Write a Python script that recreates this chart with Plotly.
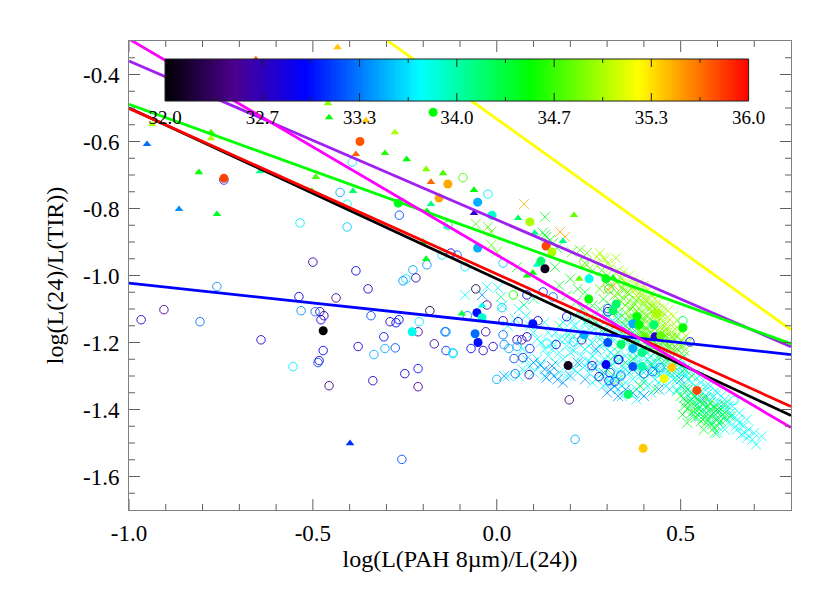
import numpy as np
import plotly.graph_objects as go

FONT = "Liberation Serif"
TICK_GREY = "#606060"

# colour scale of the bar, log luminosity 32-36
cmin, cmax = 32.0, 36.0
rainbow = [[0.0, "#000000"], [0.12, "#4b0090"], [0.24, "#0000ff"], [0.437, "#00ffff"],
           [0.626, "#00ff00"], [0.811, "#ffff00"], [1.0, "#ff0000"]]
bar_ticks = [32.0, 32.667, 33.333, 34.0, 34.667, 35.333, 36.0]
bar_labels = ["32.0", "32.7", "33.3", "34.0", "34.7", "35.3", "36.0"]
bar_minor = [32.333, 33.0, 33.667, 34.333, 35.0, 35.667]

# axis ticks
x_major = [-1.0, -0.5, 0.0, 0.5]
x_labels = ["-1.0", "-0.5", "0.0", "0.5"]
x_minor = [-0.9, -0.8, -0.7, -0.6, -0.4, -0.3, -0.2, -0.1, 0.1, 0.2, 0.3, 0.4, 0.6, 0.7]
y_major = [-1.6, -1.4, -1.2, -1.0, -0.8, -0.6, -0.4]
y_labels = ["-1.6", "-1.4", "-1.2", "-1.0", "-0.8", "-0.6", "-0.4"]
y_minor = [-1.65, -1.55, -1.5, -1.45, -1.35, -1.3, -1.25, -1.15, -1.1, -1.05, -0.95, -0.9, -0.85,
           -0.75, -0.7, -0.65, -0.55, -0.5, -0.45, -0.35]

# fit lines: y at x=-1.0 and y at x=0.8
line_names = ["black", "red", "blue", "purple", "green", "magenta", "yellow"]
line_colors = ["#000000", "#ff0000", "#0000ff", "#a020f0", "#00ff00", "#ff00ff", "#ffff00"]
line_x = [-1.0, 0.8]
line_left = [-0.50, -0.501, -1.023, -0.36, -0.489, -0.294, 0.254]
line_right = [-1.418, -1.391, -1.236, -1.2125, -1.204, -1.454, -1.162]

# (x, y, colour value)
triangles = [
    (-0.433, -0.319, 35.4), (-0.655, -0.355, 35.7), (-0.459, -0.486, 34.9), (-0.456, -0.528, 34.5),
    (-0.356, -0.537, 35.4), (-0.937, -0.549, 35.0), (-0.777, -0.573, 34.7), (-0.777, -0.591, 35.0),
    (-0.951, -0.608, 33.3), (-0.277, -0.573, 35.0), (-0.383, -0.638, 35.7), (-0.304, -0.635, 34.6),
    (-0.245, -0.653, 34.5), (-0.192, -0.683, 34.9), (-0.146, -0.695, 34.7), (-0.179, -0.721, 35.7),
    (-0.81, -0.692, 34.5), (-0.644, -0.689, 34.1), (-0.492, -0.706, 34.7), (-0.503, -0.748, 34.6),
    (-0.391, -0.748, 34.2), (-0.864, -0.802, 33.4), (-0.761, -0.817, 34.4), (-0.179, -0.787, 34.1),
    (-0.19, -0.808, 34.4), (-0.135, -0.855, 33.8), (-0.2, -0.9, 34.5), (-0.192, -0.951, 34.4),
    (-0.399, -1.501, 33.1), (-0.062, -0.745, 34.5), (-0.062, -0.814, 32.7), (0.058, -0.829, 34.2),
    (0.21, -0.82, 34.8), (0.103, -0.873, 34.1), (0.18, -0.897, 34.1), (0.109, -0.968, 33.9),
    (0.082, -1.0, 34.5), (0.098, -0.992, 34.5), (0.224, -1.01, 34.8), (0.316, -1.007, 34.5),
    (-0.095, -1.114, 34.3), (-0.04, -1.09, 33.8),
]

filled = [
    (-0.372, -0.6, 35.75), (-0.742, -0.71, 35.8), (-0.173, -0.513, 34.5), (-0.133, -0.727, 35.5),
    (-0.157, -0.769, 35.5), (-0.268, -0.784, 34.4), (-0.052, -0.781, 33.5), (-0.013, -0.82, 33.9),
    (0.09, -0.84, 35.0), (-0.052, -0.918, 33.5), (0.134, -0.912, 35.8), (0.15, -0.93, 35.0),
    (0.12, -0.957, 34.2), (0.131, -0.98, 32.1), (0.251, -1.01, 33.8), (0.297, -1.01, 34.4),
    (0.25, -1.07, 34.5), (0.325, -1.085, 34.2), (0.316, -1.105, 34.2), (0.381, -1.123, 34.5),
    (0.37, -1.144, 33.5), (0.387, -1.147, 34.5), (0.403, -1.183, 34.8), (-0.054, -1.111, 33.0),
    (-0.04, -1.126, 33.9), (0.098, -1.144, 33.0), (-0.059, -1.174, 33.3), (-0.051, -1.2, 33.0),
    (0.237, -1.177, 33.5), (0.302, -1.2, 33.2), (0.338, -1.206, 34.2), (0.37, -1.218, 33.5),
    (0.395, -1.23, 34.1), (0.194, -1.269, 32.1), (0.297, -1.266, 32.9), (0.37, -1.272, 33.2),
    (0.395, -1.272, 34.0), (0.435, -1.114, 35.0), (0.427, -1.147, 34.2), (0.506, -1.156, 34.5),
    (0.43, -1.183, 32.7), (0.446, -1.18, 34.8), (0.476, -1.275, 35.4), (0.455, -1.308, 35.2),
    (0.544, -1.343, 35.8), (0.357, -1.355, 34.2), (0.398, -1.516, 35.4), (-0.472, -1.165, 32.0),
    (-0.23, -1.168, 33.8),
]

open_circles = [
    (-0.742, -0.715, 33.1), (-0.393, -0.662, 33.7), (-0.426, -0.752, 33.5), (-0.407, -0.787, 33.8),
    (-0.265, -0.82, 33.2), (-0.535, -0.843, 33.7), (-0.407, -0.855, 33.6), (-0.133, -0.85, 34.4),
    (-0.092, -0.708, 34.7), (-0.024, -0.757, 33.7), (-0.5, -0.96, 32.6), (-0.383, -0.986, 32.9),
    (-0.228, -0.983, 33.5), (-0.19, -0.968, 33.4), (-0.149, -0.939, 33.7), (-0.125, -0.933, 32.8),
    (-0.108, -0.939, 33.3), (-0.22, -1.007, 32.6), (-0.247, -1.01, 33.7), (-0.255, -1.016, 33.4),
    (-0.35, -1.04, 32.8), (-0.761, -1.033, 33.4), (-0.538, -1.063, 32.9), (-0.437, -1.067, 32.5),
    (-0.905, -1.102, 32.5), (-0.967, -1.132, 32.7), (-0.807, -1.138, 33.3), (-0.532, -1.105, 33.4),
    (-0.494, -1.108, 33.3), (-0.481, -1.108, 32.6), (-0.47, -1.12, 32.6), (-0.478, -1.132, 32.9),
    (-0.342, -1.12, 33.2), (-0.29, -1.138, 32.7), (-0.274, -1.141, 33.0), (-0.266, -1.132, 33.0),
    (-0.211, -1.138, 33.7), (-0.182, -1.105, 32.2), (-0.214, -1.168, 32.5), (-0.138, -1.168, 33.4),
    (-0.141, -1.168, 33.3), (-0.307, -1.183, 33.0), (-0.641, -1.192, 32.7), (-0.377, -1.212, 32.8),
    (-0.472, -1.224, 32.9), (-0.304, -1.218, 33.5), (-0.276, -1.216, 33.2), (-0.334, -1.236, 33.5),
    (-0.138, -1.224, 33.1), (-0.119, -1.23, 33.7), (-0.17, -1.204, 32.5), (-0.554, -1.272, 33.7),
    (-0.483, -1.254, 32.8), (-0.486, -1.26, 33.2), (-0.214, -1.278, 33.0), (-0.25, -1.293, 32.8),
    (-0.337, -1.314, 32.7), (-0.456, -1.329, 32.4), (-0.214, -1.332, 32.5), (-0.258, -1.549, 33.2),
    (-0.086, -0.974, 33.7), (0.017, -0.963, 33.6), (-0.057, -1.04, 32.2), (0.045, -1.058, 34.5),
    (0.126, -1.049, 33.1), (0.082, -1.058, 32.9), (0.153, -1.064, 33.3), (-0.027, -1.088, 32.5),
    (0.014, -1.096, 33.6), (-0.08, -1.12, 33.4), (0.017, -1.135, 32.7), (0.058, -1.138, 32.8),
    (0.112, -1.135, 32.7), (0.19, -1.123, 32.9), (-0.03, -1.168, 32.6), (0.017, -1.177, 33.3),
    (0.055, -1.192, 32.7), (0.068, -1.192, 32.7), (0.082, -1.183, 32.8), (0.02, -1.206, 33.4),
    (-0.01, -1.212, 32.8), (-0.07, -1.218, 33.0), (-0.037, -1.224, 32.7), (0.033, -1.218, 33.5),
    (0.055, -1.212, 33.5), (0.09, -1.218, 33.1), (0.071, -1.245, 33.1), (0.047, -1.248, 33.2),
    (-0.119, -1.233, 33.6), (0.161, -1.206, 32.9), (0.136, -1.204, 33.8), (0.231, -1.192, 32.5),
    (0.21, -1.198, 33.6), (0.33, -1.251, 33.1), (0.259, -1.269, 32.8), (0.308, -1.29, 33.2),
    (0.338, -1.296, 33.6), (0.278, -1.302, 32.7), (0.0, -1.31, 33.5), (0.05, -1.293, 33.3),
    (0.088, -1.296, 32.6), (0.302, -1.099, 33.1), (0.305, -1.04, 34.4), (0.237, -0.96, 34.8),
    (0.302, -1.108, 32.9), (0.506, -1.135, 34.2), (0.525, -1.198, 32.9), (0.332, -1.251, 32.9),
    (0.305, -1.314, 33.1), (0.321, -1.317, 33.2), (0.337, -1.3, 33.3), (0.4, -1.293, 33.2),
    (0.424, -1.287, 33.3), (0.444, -1.275, 33.4), (0.645, -1.373, 33.8), (0.505, -1.287, 33.8),
    (0.197, -1.371, 32.4), (0.213, -1.489, 33.5),
]

# crosses, grouped by colour value
cross_orange_c = 35.5
cross_orange = [(0.074, -0.787), (0.172, -0.87), (0.186, -0.885), (0.302, -1.043), (0.318, -1.03)]

cross_cyan_c = 33.75
cross_cyan = [
    (-0.086, -1.058), (-0.027, -1.034), (0.003, -1.037), (0.015, -1.09), (0.06, -1.1), (0.08, -1.12),
    (0.03, -1.15), (0.1, -1.17), (0.12, -1.2), (0.14, -1.17), (0.15, -1.22), (0.17, -1.19),
    (0.19, -1.17), (0.21, -1.15), (0.23, -1.13), (0.25, -1.16), (0.27, -1.18), (0.29, -1.16),
    (0.31, -1.14), (0.33, -1.12), (0.34, -1.15), (0.36, -1.14), (0.35, -1.2), (0.37, -1.17),
    (0.38, -1.22), (0.4, -1.24), (0.42, -1.24), (0.44, -1.25), (0.46, -1.26), (0.48, -1.27),
    (0.5, -1.29), (0.52, -1.31), (0.54, -1.33), (0.56, -1.35), (0.58, -1.37), (0.6, -1.38),
    (0.62, -1.4), (0.64, -1.42), (0.66, -1.44), (0.653, -1.46), (0.67, -1.45), (0.685, -1.46),
    (0.7, -1.47), (0.72, -1.48), (0.665, -1.475), (0.68, -1.485), (0.695, -1.49), (0.705, -1.505),
    (0.655, -1.43), (0.63, -1.39), (0.61, -1.4), (0.59, -1.39), (0.57, -1.41), (0.55, -1.42),
    (0.56, -1.4), (0.58, -1.44), (0.6, -1.43), (0.54, -1.38), (0.52, -1.36), (0.5, -1.33),
    (0.48, -1.31), (0.46, -1.29), (0.44, -1.32), (0.42, -1.29), (0.4, -1.27), (0.38, -1.24),
    (0.36, -1.29), (0.34, -1.27), (0.32, -1.24), (0.3, -1.22), (0.28, -1.21), (0.26, -1.2),
    (0.24, -1.22), (0.22, -1.2), (0.2, -1.23), (0.18, -1.25), (0.16, -1.26), (0.14, -1.24),
    (0.12, -1.27), (0.1, -1.29), (0.08, -1.25), (0.06, -1.3), (0.03, -1.3), (0.17, -1.29),
    (0.21, -1.28), (0.23, -1.26), (0.25, -1.29), (0.27, -1.31), (0.29, -1.33), (0.31, -1.3),
    (0.33, -1.34), (0.35, -1.32), (0.37, -1.31), (0.39, -1.35), (0.41, -1.33), (0.43, -1.31),
    (0.47, -1.34), (0.28, -1.26), (0.26, -1.24), (0.32, -1.19), (0.39, -1.19), (0.41, -1.21),
    (0.46, -1.22), (0.5, -1.25), (0.52, -1.27), (0.55, -1.3), (0.58, -1.33), (0.61, -1.36),
    (0.22, -1.11), (0.24, -1.14), (0.26, -1.13), (0.28, -1.15), (0.3, -1.12), (0.32, -1.14),
    (0.18, -1.14), (0.2, -1.19), (0.23, -1.18), (0.25, -1.21), (0.27, -1.23), (0.29, -1.2),
    (0.31, -1.23), (0.33, -1.21), (0.35, -1.24), (0.37, -1.23), (0.39, -1.26), (0.41, -1.25),
    (0.43, -1.27), (0.45, -1.29), (0.47, -1.28), (0.49, -1.3), (0.51, -1.29), (0.53, -1.32),
    (0.55, -1.34), (0.57, -1.33), (0.59, -1.36), (0.6, -1.35), (0.62, -1.37), (0.64, -1.39),
    (0.66, -1.41), (0.68, -1.43), (0.63, -1.44), (0.65, -1.45), (0.62, -1.46), (0.6, -1.47),
    (0.31, -1.27), (0.33, -1.29), (0.35, -1.28), (0.37, -1.27), (0.39, -1.3), (0.41, -1.28),
    (0.43, -1.26), (0.45, -1.31), (0.28, -1.29), (0.3, -1.32), (0.32, -1.31), (0.34, -1.33),
    (0.36, -1.35), (0.38, -1.34), (0.4, -1.32), (0.42, -1.35), (0.24, -1.27), (0.22, -1.29),
    (0.2, -1.27), (0.19, -1.21), (0.17, -1.23), (0.15, -1.2), (0.13, -1.22), (0.11, -1.25),
    (0.295, -1.25), (0.315, -1.265), (0.335, -1.25), (0.355, -1.265), (0.375, -1.25), (0.395, -1.285),
    (0.415, -1.265), (0.435, -1.285), (0.455, -1.275), (0.475, -1.3), (0.495, -1.275), (0.515, -1.3),
    (0.535, -1.295), (0.555, -1.32), (0.575, -1.35), (0.595, -1.345), (0.615, -1.385), (0.635, -1.41),
    (0.305, -1.18), (0.325, -1.17), (0.345, -1.18), (0.365, -1.21), (0.385, -1.2), (0.405, -1.23),
    (0.245, -1.185), (0.265, -1.16), (0.285, -1.185), (0.225, -1.165), (0.205, -1.135), (0.185, -1.19),
    (0.21, -1.225), (0.23, -1.24), (0.25, -1.255), (0.27, -1.275), (0.29, -1.3), (0.31, -1.32),
    (0.05, -1.13), (0.09, -1.15), (0.11, -1.19), (0.13, -1.14), (0.16, -1.17), (0.07, -1.22),
    (0.09, -1.27), (0.07, -1.28), (0.13, -1.3), (0.19, -1.3), (0.26, -1.32), (0.34, -1.36),
    (0.38, -1.37), (0.46, -1.33), (0.49, -1.34), (0.52, -1.34), (0.535, -1.36), (0.675, -1.47),
]

cross_sky_c = 33.4
cross_sky = [
    (-0.04, -1.058), (0.118, -1.266), (0.145, -1.287), (0.155, -1.3), (0.13, -1.28), (0.18, -1.32),
    (0.2, -1.3), (0.22, -1.26), (0.24, -1.31), (0.26, -1.27), (0.29, -1.29), (0.31, -1.34),
    (0.33, -1.36), (0.35, -1.34), (0.37, -1.35), (0.4, -1.36), (0.43, -1.28), (0.44, -1.34),
    (0.5, -1.31), (0.56, -1.37), (0.02, -1.3), (0.1, -1.26), (0.37, -1.28), (0.27, -1.22),
    (0.135, -1.305), (0.15, -1.27), (0.165, -1.31), (0.3, -1.35), (0.32, -1.33), (0.6, -1.4),
]

cross_spring_c = 34.1
cross_spring = [
    (0.011, -1.064), (0.074, -1.088), (0.1, -1.07), (0.17, -1.15), (0.2, -1.17), (0.3, -1.2),
    (0.33, -1.23), (0.35, -1.26), (0.38, -1.28), (0.4, -1.31), (0.45, -1.26), (0.47, -1.29),
    (0.49, -1.31), (0.51, -1.33), (0.53, -1.35), (0.55, -1.375), (0.57, -1.395), (0.59, -1.41),
    (0.61, -1.42), (0.53, -1.42), (0.55, -1.395), (0.575, -1.43), (0.6, -1.45), (0.625, -1.43),
    (0.51, -1.365), (0.49, -1.345), (0.36, -1.18), (0.4, -1.22), (0.44, -1.29), (0.31, -1.25),
    (0.52, -1.38), (0.54, -1.36), (0.56, -1.38), (0.58, -1.4), (0.6, -1.41), (0.62, -1.42),
    (0.545, -1.405), (0.565, -1.425), (0.585, -1.415), (0.605, -1.44), (0.51, -1.34), (0.53, -1.37),
    (0.34, -1.16), (0.38, -1.19), (0.42, -1.22), (0.44, -1.24), (0.46, -1.25), (0.48, -1.28),
]

cross_green_c = 34.4
cross_green = [
    (0.131, -0.825), (0.131, -0.879), (0.125, -0.872), (0.145, -0.894), (0.153, -0.903), (0.164, -0.918),
    (0.135, -0.885), (0.055, -0.975), (0.158, -0.975), (0.2, -1.01), (0.22, -1.04), (0.24, -1.05),
    (0.17, -1.03), (0.19, -1.06), (0.215, -1.08), (0.235, -1.1), (0.26, -1.09), (0.28, -1.1),
    (0.3, -1.13), (0.32, -1.15), (0.27, -1.14), (0.25, -1.13), (0.34, -1.17), (0.29, -1.17),
    (0.35, -1.19), (0.37, -1.2), (0.39, -1.19), (0.41, -1.205), (0.43, -1.23), (0.45, -1.24),
    (0.37, -1.25), (0.42, -1.265), (0.33, -1.31), (0.39, -1.33), (0.43, -1.34), (0.3, -1.28),
    (0.5, -1.36), (0.515, -1.375), (0.53, -1.38), (0.545, -1.37), (0.56, -1.385), (0.575, -1.39),
    (0.59, -1.395), (0.605, -1.405), (0.62, -1.41), (0.635, -1.42), (0.52, -1.395), (0.535, -1.405),
    (0.55, -1.41), (0.565, -1.415), (0.58, -1.42), (0.595, -1.43), (0.61, -1.435), (0.54, -1.425),
    (0.555, -1.435), (0.57, -1.44), (0.585, -1.445), (0.505, -1.415), (0.518, -1.44), (0.563, -1.46),
    (0.593, -1.47), (0.6, -1.39), (0.57, -1.365), (0.55, -1.35), (0.62, -1.385), (0.52, -1.34),
    (0.47, -1.25), (0.49, -1.26), (0.51, -1.28), (0.53, -1.3), (0.46, -1.23), (0.44, -1.21),
    (0.36, -1.16), (0.38, -1.17), (0.4, -1.18), (0.42, -1.19), (0.33, -1.11), (0.35, -1.13),
    (0.54, -1.39), (0.58, -1.38), (0.51, -1.39), (0.53, -1.41), (0.56, -1.43), (0.59, -1.455),
    (0.31, -1.09), (0.29, -1.07), (0.33, -1.13), (0.35, -1.15), (0.37, -1.15), (0.39, -1.17),
    (0.41, -1.16), (0.43, -1.18), (0.45, -1.2), (0.47, -1.21), (0.49, -1.22), (0.51, -1.24),
]

cross_lime_c = 34.75
cross_lime = [
    (-0.057, -0.846), (-0.024, -0.855), (-0.015, -0.87), (-0.015, -0.909), (0.0, -0.93), (0.204, -0.93),
    (0.226, -0.924), (0.245, -0.933), (0.24, -0.963), (0.26, -0.985), (0.285, -0.985), (0.3, -1.0),
    (0.325, -1.02), (0.34, -1.035), (0.355, -1.05), (0.33, -1.055), (0.345, -1.07), (0.36, -1.075),
    (0.375, -1.085), (0.35, -1.09), (0.365, -1.1), (0.38, -1.105), (0.395, -1.11), (0.41, -1.12),
    (0.37, -1.12), (0.385, -1.13), (0.4, -1.135), (0.415, -1.145), (0.43, -1.155), (0.39, -1.15),
    (0.405, -1.16), (0.42, -1.17), (0.44, -1.17), (0.455, -1.185), (0.47, -1.195), (0.485, -1.19),
    (0.5, -1.195), (0.44, -1.2), (0.46, -1.21), (0.425, -1.215), (0.475, -1.22), (0.49, -1.23),
    (0.335, -1.075), (0.35, -1.11), (0.36, -1.125), (0.375, -1.14), (0.39, -1.165), (0.41, -1.18),
    (0.43, -1.1), (0.445, -1.13), (0.46, -1.16), (0.475, -1.17), (0.49, -1.18), (0.505, -1.21),
    (0.345, -1.045), (0.36, -1.055), (0.38, -1.075), (0.4, -1.09), (0.415, -1.1), (0.43, -1.12),
    (0.31, -1.03), (0.32, -1.06), (0.295, -1.02), (0.28, -1.04), (0.52, -1.2), (0.51, -1.225),
    (0.34, -1.01), (0.355, -1.025), (0.37, -1.035), (0.385, -1.065), (0.405, -1.075), (0.42, -1.09),
    (0.435, -1.105), (0.45, -1.11), (0.37, -1.095), (0.385, -1.115), (0.4, -1.125), (0.415, -1.13),
    (0.43, -1.145), (0.445, -1.155), (0.46, -1.18), (0.475, -1.185), (0.495, -1.205), (0.38, -1.14),
    (0.395, -1.17), (0.41, -1.19), (0.425, -1.195), (0.44, -1.185), (0.455, -1.2), (0.47, -1.21),
]

cross_yellow_c = 35.0
cross_yellow = [
    (0.272, -0.945), (0.28, -0.933), (0.29, -0.948), (0.295, -0.952), (0.324, -0.948), (0.302, -0.963),
    (0.267, -0.963), (0.31, -0.975), (0.33, -0.985), (0.345, -0.99), (0.36, -1.0), (0.335, -1.005),
    (0.35, -1.02), (0.37, -1.015), (0.385, -1.025), (0.4, -1.03), (0.36, -1.035), (0.375, -1.045),
    (0.39, -1.05), (0.41, -1.045), (0.42, -1.055), (0.38, -1.06), (0.4, -1.065), (0.415, -1.07),
    (0.43, -1.07), (0.44, -1.08), (0.395, -1.08), (0.41, -1.09), (0.425, -1.09), (0.44, -1.1),
    (0.455, -1.095), (0.465, -1.105), (0.42, -1.105), (0.435, -1.115), (0.45, -1.12), (0.465, -1.125),
    (0.48, -1.12), (0.49, -1.135), (0.43, -1.13), (0.445, -1.14), (0.46, -1.145), (0.475, -1.15),
    (0.49, -1.155), (0.5, -1.165), (0.515, -1.18), (0.45, -1.16), (0.465, -1.17), (0.48, -1.175),
]

# the crosses were overplotted in this order, cool colours first
cross_groups = [(cross_cyan, cross_cyan_c), (cross_sky, cross_sky_c), (cross_spring, cross_spring_c),
                (cross_green, cross_green_c), (cross_lime, cross_lime_c), (cross_yellow, cross_yellow_c),
                (cross_orange, cross_orange_c)]

levels = np.linspace(cmin, cmax, 256)
scale = dict(colorscale=rainbow, cmin=cmin, cmax=cmax)


def unpack(points):
    return [list(col) for col in zip(*points)]


def x_ticks(vals, length):
    # bottom and top of the frame, length as a fraction of the plot height
    out = []
    for v in vals:
        out.append(dict(type="line", xref="x", yref="paper", x0=v, x1=v, y0=0, y1=length, line=dict(color=TICK_GREY, width=1)))
        out.append(dict(type="line", xref="x", yref="paper", x0=v, x1=v, y0=1 - length, y1=1, line=dict(color=TICK_GREY, width=1)))
    return out


def y_ticks(vals, length):
    out = []
    for v in vals:
        out.append(dict(type="line", xref="paper", yref="y", x0=0, x1=length, y0=v, y1=v, line=dict(color=TICK_GREY, width=1)))
        out.append(dict(type="line", xref="paper", yref="y", x0=1 - length, x1=1, y0=v, y1=v, line=dict(color=TICK_GREY, width=1)))
    return out


def bar_tick_marks(vals, length):
    out = []
    for v in vals:
        out.append(dict(type="line", xref="x2", yref="y2 domain", x0=v, x1=v, y0=0, y1=length, line=dict(color="#202020", width=1)))
        out.append(dict(type="line", xref="x2", yref="y2 domain", x0=v, x1=v, y0=1 - length, y1=1, line=dict(color="#202020", width=1)))
    return out


fig = go.Figure()

for pts, c in cross_groups:
    x, y = unpack(pts)
    vals = [c] * len(x)
    fig.add_trace(go.Scatter(
        x=x, y=y, mode="markers", hoverinfo="skip",
        marker=dict(symbol="x-thin", size=10, color=vals, line=dict(width=0.8, color=vals, **scale), **scale),
    ))

x, y, c = unpack(open_circles)
fig.add_trace(go.Scatter(
    x=x, y=y, mode="markers",
    marker=dict(symbol="circle-open", size=8.5, color=c, line=dict(width=0.9, color=c, **scale), **scale),
))

x, y, c = unpack(triangles)
fig.add_trace(go.Scatter(
    x=x, y=y, mode="markers",
    marker=dict(symbol="triangle-up", size=7.5, color=c, line=dict(width=0), **scale),
))

x, y, c = unpack(filled)
fig.add_trace(go.Scatter(
    x=x, y=y, mode="markers",
    marker=dict(symbol="circle", size=9, color=c, line=dict(width=0), **scale),
))

for name, color, left, right in zip(line_names, line_colors, line_left, line_right):
    fig.add_trace(go.Scatter(x=line_x, y=[left, right], mode="lines", name=name,
                             line=dict(color=color, width=2.8)))

# colour bar as a small inset axis
fig.add_trace(go.Heatmap(x=levels, y=[0], z=[levels], colorscale=rainbow, zmin=cmin, zmax=cmax,
                         showscale=False, xaxis="x2", yaxis="y2"))

# tick marks drawn as shapes, the axis ticks did not show up with this figure
tick_shapes = (x_ticks(x_major, 11 / 469) + x_ticks(x_minor, 6 / 469)
               + y_ticks(y_major, 11 / 662) + y_ticks(y_minor, 6 / 662)
               + bar_tick_marks(bar_ticks, 8 / 42) + bar_tick_marks(bar_minor, 4 / 42))
bar_outline = dict(type="rect", xref="x2 domain", yref="y2 domain", x0=0, x1=1, y0=0, y1=1,
                   line=dict(color="#202020", width=1))

axis_style = dict(
    showgrid=False, zeroline=False, showline=True, mirror=True, linecolor="#808080", linewidth=1,
    ticks="", tickfont=dict(family=FONT, size=23, color="black"),
)

fig.update_layout(
    width=830, height=593, margin=dict(l=129, r=39, t=41, b=83, autoexpand=False),
    paper_bgcolor="white", plot_bgcolor="white", showlegend=False,
    shapes=tick_shapes + [bar_outline],
    xaxis=dict(
        range=[-1.0, 0.8], tickvals=x_major, ticktext=x_labels, ticklabelstandoff=2,
        title=dict(text="log(L(PAH 8µm)/L(24))", font=dict(family=FONT, size=24, color="black"), standoff=4),
        **axis_style,
    ),
    yaxis=dict(
        range=[-1.7, -0.3], tickvals=y_major, ticktext=y_labels, ticklabelstandoff=4,
        title=dict(text="log(L(24)/L(TIR))", font=dict(family=FONT, size=24, color="black"), standoff=12),
        **axis_style,
    ),
    xaxis2=dict(
        domain=[0.0544, 0.936], anchor="y2", range=[cmin, cmax], tickvals=bar_ticks, ticktext=bar_labels,
        showgrid=False, zeroline=False, ticks="", ticklabelstandoff=3,
        tickfont=dict(family=FONT, size=19, color="black"),
    ),
    yaxis2=dict(
        domain=[0.872, 0.9616], anchor="x2", range=[-0.5, 0.5], showticklabels=False, ticks="",
        showgrid=False, zeroline=False,
    ),
)

fig.write_html("out.html", post_script="document.body.style.margin='0';", config={"displayModeBar": False})
